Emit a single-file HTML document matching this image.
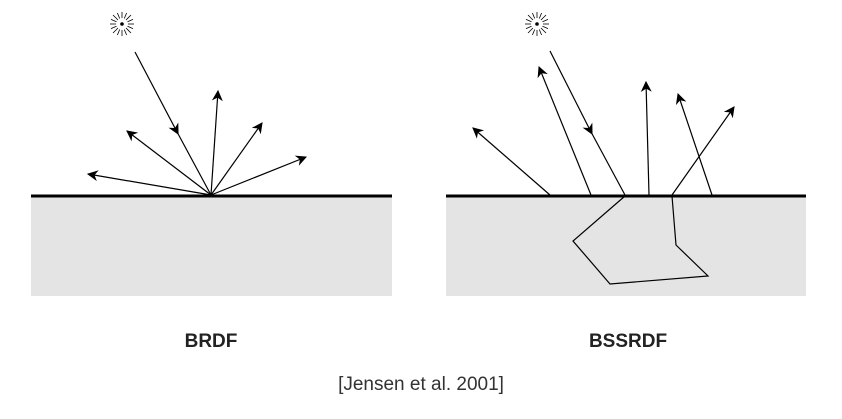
<!DOCTYPE html>
<html><head><style>
body{margin:0;width:842px;height:414px;background:#fff;overflow:hidden}
</style></head><body>
<svg width="842" height="414" viewBox="0 0 842 414" xmlns="http://www.w3.org/2000/svg">
<defs>
<marker id="a" viewBox="0 0 10 10" refX="9" refY="5" markerWidth="13" markerHeight="11" markerUnits="userSpaceOnUse" orient="auto">
<path d="M0,0 L10,5 L0,10 L3,5 Z" fill="#000"/></marker>
<marker id="m" viewBox="0 0 10 10" refX="5" refY="5" markerWidth="13" markerHeight="11" markerUnits="userSpaceOnUse" orient="auto">
<path d="M0,0 L10,5 L0,10 L3,5 Z" fill="#000"/></marker>
<g id="sun" stroke="#000" stroke-width="0.8">
<circle r="1.8" fill="#000" stroke="none"/>
<line x1="6" y1="0" x2="12" y2="0"/><line x1="-6" y1="0" x2="-12" y2="0"/>
<line x1="0" y1="6" x2="0" y2="12"/><line x1="0" y1="-6" x2="0" y2="-12"/>
<line x1="4" y1="4" x2="9" y2="9"/><line x1="-4" y1="4" x2="-9" y2="9"/>
<line x1="4" y1="-4" x2="9" y2="-9"/><line x1="-4" y1="-4" x2="-9" y2="-9"/>
<line x1="5.5" y1="2.3" x2="11" y2="4.6"/><line x1="-5.5" y1="-2.3" x2="-11" y2="-4.6"/>
<line x1="-5.5" y1="2.3" x2="-11" y2="4.6"/><line x1="5.5" y1="-2.3" x2="11" y2="-4.6"/>
<line x1="2.3" y1="5.5" x2="4.6" y2="11"/><line x1="-2.3" y1="-5.5" x2="-4.6" y2="-11"/>
<line x1="-2.3" y1="5.5" x2="-4.6" y2="11"/><line x1="2.3" y1="-5.5" x2="4.6" y2="-11"/>
</g>
</defs>
<rect x="31" y="196" width="361" height="100" fill="#e4e4e4"/>
<line x1="31" y1="196" x2="392" y2="196" stroke="#000" stroke-width="3"/>
<use href="#sun" x="122" y="24"/>
<g stroke="#000" stroke-width="1.2" fill="none">
<polyline points="135,52 176,130 211,195" marker-mid="url(#m)"/>
<line x1="211" y1="195" x2="88" y2="174" marker-end="url(#a)"/>
<line x1="211" y1="195" x2="127" y2="131" marker-end="url(#a)"/>
<line x1="211" y1="195" x2="218" y2="91" marker-end="url(#a)"/>
<line x1="211" y1="195" x2="262" y2="123" marker-end="url(#a)"/>
<line x1="211" y1="195" x2="306" y2="157" marker-end="url(#a)"/>
</g>
<rect x="446" y="196" width="360" height="100" fill="#e4e4e4"/>
<line x1="446" y1="196" x2="806" y2="196" stroke="#000" stroke-width="3"/>
<use href="#sun" x="537" y="24"/>
<g stroke="#000" stroke-width="1.2" fill="none">
<polyline points="550,51 590,130 625,195" marker-mid="url(#m)"/>
<line x1="550" y1="195" x2="473" y2="128" marker-end="url(#a)"/>
<line x1="591" y1="195" x2="539" y2="67" marker-end="url(#a)"/>
<line x1="649" y1="195" x2="646" y2="82" marker-end="url(#a)"/>
<line x1="712" y1="195" x2="678" y2="94" marker-end="url(#a)"/>
<line x1="672" y1="195" x2="734" y2="107" marker-end="url(#a)"/>
<polyline points="625,196 573,241 610,284 708,276 676,245 672,196"/>
</g>
<g font-family="Liberation Sans, sans-serif" text-anchor="middle">
<text x="211" y="347" font-size="19" font-weight="bold" fill="#222">BRDF</text>
<text x="628" y="347" font-size="19" font-weight="bold" fill="#222">BSSRDF</text>
<text x="421" y="390" font-size="19" fill="#333">[Jensen et al. 2001]</text>
</g>
</svg>
</body></html>
